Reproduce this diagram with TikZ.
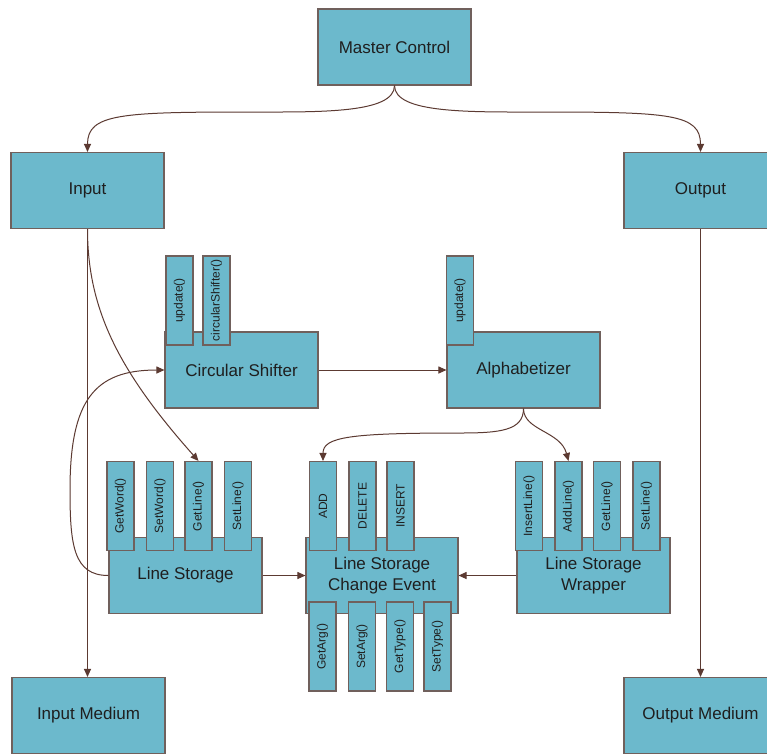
\documentclass[tikz,border=0pt]{standalone}
\usepackage{fontspec}
\setmainfont{Liberation Sans}
\usetikzlibrary{arrows.meta}
\definecolor{boxfill}{RGB}{108,185,204}
\definecolor{boxline}{RGB}{112,96,92}
\definecolor{conncol}{RGB}{92,58,50}
\begin{document}
\begin{tikzpicture}[x=1pt,y=-1pt,
  box/.style={draw=boxline, line width=1.1pt, fill=boxfill, inner sep=0pt,
    minimum width=153, minimum height=76, align=center,
    font=\fontsize{17}{20.5}\selectfont, text=black!88},
  tabbox/.style={draw=boxline, line width=1.1pt, fill=boxfill, inner sep=0pt,
    minimum width=27, minimum height=89,
    font=\fontsize{12}{14}\selectfont, text=black!88},
  conn/.style={draw=conncol, line width=1pt, -{Triangle[length=8pt,width=7pt]}}
]
\useasboundingbox (0,0) rectangle (767,753);
\fill[white] (0,0) rectangle (767,753);
\clip (0,0) rectangle (767,753);

% main boxes
\node[box] (mc)   at (394.5,47)   {Master Control};
\node[box] (in)   at (87.5,190.5) {Input};
\node[box] (out)  at (700.5,190.5){Output};
\node[box] (cs)   at (241.5,370)  {Circular Shifter};
\node[box] (al)   at (523.5,370)  {Alphabetizer};
\node[box] (ls)   at (185.5,575.5){Line Storage};
\node[box, minimum width=152] (lsce) at (382,575.5) {Line Storage\\Change Event};
\node[box] (lsw)  at (593.5,575.5){Line Storage\\Wrapper};
\node[box] (inm)  at (88.5,715.5) {Input Medium};
\node[box] (outm) at (700.5,715.5){Output Medium};

% tabs
\node[tabbox] (csupd) at (179.5,300.5) {\rotatebox{90}{update()}};
\node[tabbox] (cscs)  at (216.5,300.5) {\rotatebox{90}{circularShifter()}};
\node[tabbox] (alupd) at (460,300.5)   {\rotatebox{90}{update()}};

\node[tabbox] (lsgw) at (120.5,506) {\rotatebox{90}{GetWord()}};
\node[tabbox] (lssw) at (160,506)   {\rotatebox{90}{SetWord()}};
\node[tabbox] (lsgl) at (198.5,506) {\rotatebox{90}{GetLine()}};
\node[tabbox] (lssl) at (238,506)   {\rotatebox{90}{SetLine()}};

\node[tabbox] (add) at (323,506)   {\rotatebox{90}{ADD}};
\node[tabbox] (del) at (362.5,506) {\rotatebox{90}{DELETE}};
\node[tabbox] (ins) at (400.5,506) {\rotatebox{90}{INSERT}};

\node[tabbox] (ga) at (322.5,646.5) {\rotatebox{90}{GetArg()}};
\node[tabbox] (sa) at (362,646.5)   {\rotatebox{90}{SetArg()}};
\node[tabbox] (gt) at (400,646.5)   {\rotatebox{90}{GetType()}};
\node[tabbox] (st) at (437.5,646.5) {\rotatebox{90}{SetType()}};

\node[tabbox] (wil) at (529,506)   {\rotatebox{90}{InsertLine()}};
\node[tabbox] (wal) at (568.5,506) {\rotatebox{90}{AddLine()}};
\node[tabbox] (wgl) at (607,506)   {\rotatebox{90}{GetLine()}};
\node[tabbox] (wsl) at (646.5,506) {\rotatebox{90}{SetLine()}};

% connectors
\draw[conn] (mc.south) .. controls +(0,28) and +(70,0) .. (250,112)
            .. controls +(-130,0) and +(0,-38) .. (in.north);
\draw[conn] (mc.south) .. controls +(0,28) and +(-70,0) .. (540,112)
            .. controls +(130,0) and +(0,-38) .. (out.north);
\draw[conn] (in.south) -- (in.south |- inm.north);
\draw[conn] (out.south) -- (out.south |- outm.north);
\draw[conn] (in.south) .. controls +(0,80) and +(-80,-90) .. (lsgl.north);
\draw[conn] (cs.east) -- (al.west);
\draw[conn] (ls.west) .. controls +(-35,0) and +(0,55) .. (70,490)
            .. controls +(0,-90) and +(-70,0) .. (cs.west);
\draw[conn] (ls.east) -- (lsce.west);
\draw[conn] (lsw.west) -- (lsce.east);
\draw[conn] (al.south) .. controls +(0,22) and +(40,0) .. (460,433)
            .. controls +(-110,0) and +(0,-24) .. (add.north);
\draw[conn] (al.south) .. controls +(0,22) and +(-8,-30) .. (wal.north);
\end{tikzpicture}
\end{document}
